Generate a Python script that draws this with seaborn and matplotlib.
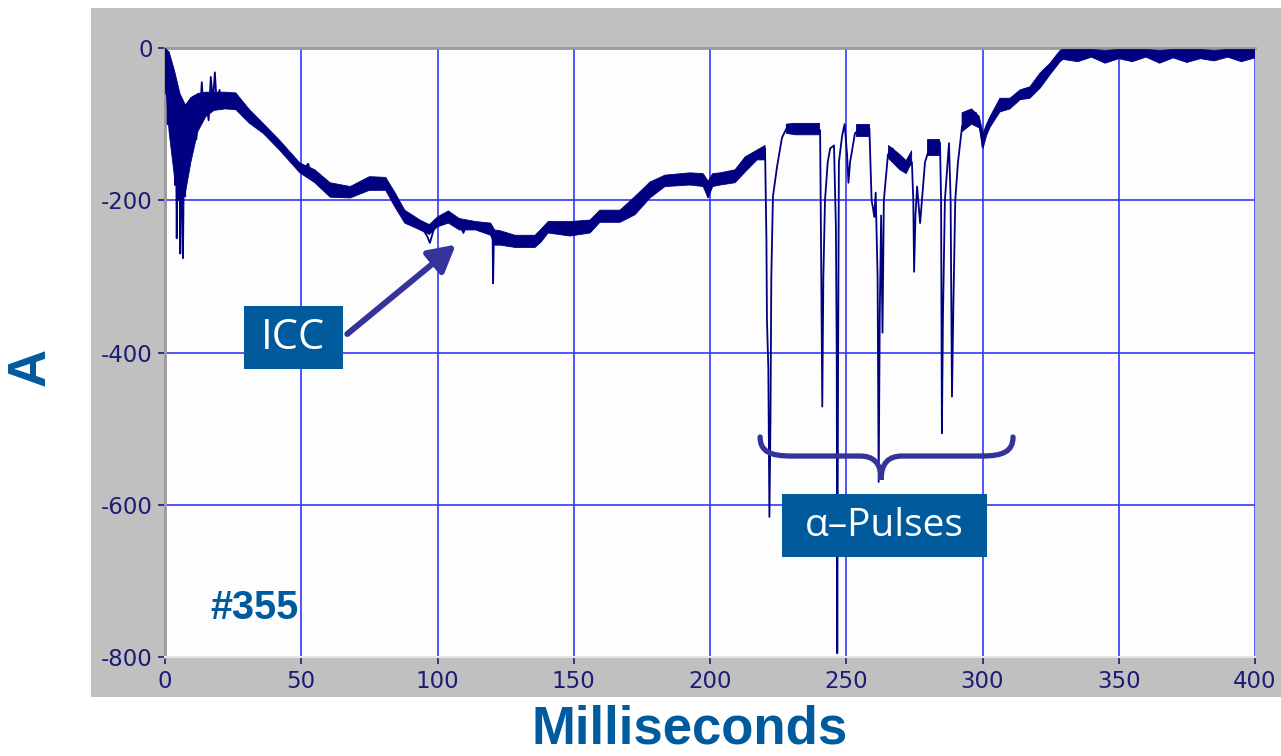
import matplotlib.pyplot as plt
from matplotlib.patches import Rectangle, PathPatch, FancyArrowPatch
from matplotlib.path import Path
import numpy as np
import pandas as pd
import seaborn as sns

# settings
sns.set_style("white")
plt.rcParams['font.family'] = ['DejaVu Sans']
plt.rcParams['axes.unicode_minus'] = False

NAN = np.nan

# trace (ms, A) -- includes the spikes
trace_ms = [0, 0.4, 0.7, 1.0, 1.3, 1.8, 2.2, 2.6, 3.0, 3.3, 3.7, 4.0, 4.3, 4.6, 5.0, 5.3, 5.6, 5.9, 6.3, 6.6,
            7.0, 7.4, 7.8, 8.4, 9.2, 10.0, 10.8, 11.5, 12.3, 12.8, 13.5, 14.2, 15.0, 16.0, 16.8, 17.6, 18.3, 19.0,
            20.0, 21.0, 22.5, 24.0, 25.7, 27.5, 29.0, 31.2, 33.0, 34.5, 36.0, 38.0, 40.0, 42.2, 44.0, 46.0, 48.0,
            49.5, 51.0, 52.5, 53.5, 55.0, 57.0, 59.0, 60.6, 63.0, 65.0, 67.9, 70.0, 72.0, 74.0, 75.2, 77.0, 79.0,
            80.7, 82.5, 84.4, 86.0, 88.1, 90.0, 92.0, 93.6, 95.0, 96.3, 97.2, 98.5, 99.8, 101.5, 103.5, 105.5,
            107.0, 108.3, 109.5, 111.0, 113.8, 116.5, 119.3, 120.2, 120.4, 120.7, 122.9, 125.0, 128.5, 132.0,
            135.8, 138.5, 140.6, 144.5, 148.6, 152.0, 156.0, 158.0, 159.6, 163.0, 167.0, 170.0, 172.5, 175.0,
            178.0, 181.0, 183.5, 188.0, 192.7, 197.0, 198.5, 199.3, 200.5, 203.7, 207.0, 209.2, 211.0, 212.9,
            215.0, 217.3, 219.5, 220.2,
            220.7, 220.9, 221.4, 221.8, 222.2, 222.5, 223.1, 224.6, 226.4, 228.3, 231.2, 236.0, 240.4, 240.8,
            241.2, 241.6, 242.2, 243.2, 244.1, 245.5, 246.2, 246.5, 246.7, 247.0, 247.3, 248.5, 249.4, 250.3,
            250.8, 251.4, 253.2, 256.0, 258.5, 259.3, 259.8, 260.3, 260.8, 261.5, 261.9, 262.3, 262.8, 263.3,
            263.8, 265.3, 267.0, 269.7, 272.0, 274.1, 274.6, 274.9, 275.4, 276.0, 277.1, 278.0, 278.9, 281.0,
            284.4, 284.8, 285.1, 285.5, 286.2, 287.0, 287.7, 288.3, 288.8, 289.3, 290.0, 291.0, 292.5, 295.0,
            297.5, 299.1, 300.0, 300.8, 302.8, 306.4, 310.1, 313.8, 317.4, 321.1, 324.8, 328.5, 329.6, 400.0]
trace_a = [-2, -60, -5, -100, -20, -40, -90, -30, -130, -60, -180, -80, -250, -120, -200, -90, -270, -150, -200, -276,
           -120, -195, -80, -160, -70, -130, -75, -120, -60, -90, -45, -85, -65, -95, -38, -70, -32, -75,
           -55, -80, -60, -72, -62, -75, -78, -90, -100, -97, -105, -110, -118, -128, -137, -145, -152,
           -157, -160, -152, -163, -168, -172, -183, -186, -190, -188, -190, -186, -182, -178, -176, -172, -178,
           -176, -185, -198, -205, -221, -230, -232, -233, -240, -248, -256, -240, -228, -220, -222, -223,
           -232, -232, -243, -229, -233, -232, -238, -240, -309, -248, -250, -252, -255, -254,
           -255, -245, -236, -238, -238, -236, -234, -228, -221, -220, -220, -214, -206, -196,
           -187, -178, -174, -172, -172, -173, -180, -196, -182, -172, -170, -168, -160, -153,
           -145, -140, -135, -132,
           -250, -357, -420, -616, -485, -300, -195, -156, -118, -104, -103, -105, -108, -280,
           -471, -300, -200, -150, -132, -128, -235, -400, -795, -420, -150, -115, -100, -140,
           -177, -150, -112, -103, -106, -200, -210, -222, -190, -300, -570, -350, -220, -374,
           -200, -140, -132, -150, -160, -150, -200, -294, -220, -182, -230, -190, -150, -126,
           -124, -200, -506, -350, -200, -160, -125, -200, -458, -340, -200, -150, -103, -90,
           -85, -100, -130, -112, -92, -78, -76, -62, -58, -45, -28, -10, -8, -8]

# thickness of the noisy trace (lower / upper edge), NaN = gap
band_ms = [0, 1.5, 3.5, 5.5, 7.5, 9.5, 12, 15, 18, 22, 26, 31, 36, 42, 49.5, 55, 60.6, 68, 75, 81, 84.4, 88,
           93.6, 97, 100, 104, 108, 114, 119.5, 121, 123, 128.5, 135.8, 138, 140.6, 148.6, 156, 159.6, 167,
           172.5, 178, 183.5, 192.7, 197.5, 199.3, 201, 203.7, 209.2, 212.9, 217.3, 220.2, 220.5,
           228, 231.2, 240.2, 240.5, 253.5, 258.3, 258.6, 265.5, 269.7, 272, 274, 274.3,
           279.5, 284.2, 284.5, 292.5, 296, 298.8, 300.2, 301.5, 302.8, 306.4, 310.1, 313.8, 317.4, 321.1,
           324.8, 328.5, 329.6, 335, 340, 345, 350, 355, 360, 365, 370, 375, 380, 385, 390, 395, 400]
band_lo = [-30, -110, -170, -200, -190, -150, -110, -90, -82, -80, -81, -99, -112, -134, -164, -177, -196, -197,
           -187, -187, -209, -230, -239, -245, -235, -230, -239, -239, -246, -259, -259, -262, -262, -255, -243,
           -247, -243, -229, -229, -219, -197, -182, -180, -182, -197, -182, -180, -177, -163, -147, -147, NAN,
           -112, -114, -114, NAN, -115, -115, NAN, -145, -160, -165, -150, NAN,
           -140, -140, NAN, -110, -100, -105, -132, -115, -104, -84, -80, -68, -66, -53,
           -35, -18, -15, -18, -12, -20, -14, -18, -12, -20, -13, -19, -14, -17, -12, -18, -13]
band_hi = [0, -5, -30, -60, -75, -65, -60, -58, -58, -58, -59, -81, -99, -121, -151, -160, -177, -182,
           -169, -170, -190, -213, -226, -232, -222, -214, -224, -228, -230, -239, -240, -246, -246, -238, -228,
           -228, -226, -213, -213, -195, -176, -167, -164, -165, -175, -165, -164, -160, -143, -134, -128, NAN,
           -100, -99, -99, NAN, -100, -100, NAN, -128, -140, -148, -135, NAN,
           -120, -120, NAN, -85, -80, -90, -112, -100, -90, -66, -66, -55, -51, -33,
           -20, -3, -2, -2, -2, -3, -2, -2, -2, -3, -2, -2, -2, -3, -2, -2, -2]

x_ticks = [0, 50, 100, 150, 200, 250, 300, 350, 400]
y_ticks = [-800, -600, -400, -200, 0]

navy = '#000080'
label_blue = '#005a9e'
box_blue = '#005a9c'
arrow_col = '#333399'

fig = plt.figure(figsize=(12.81, 7.56), dpi=100)
# grey frame behind the plot area
bg = fig.add_axes([91 / 1281, 59 / 756, 1 - 91 / 1281, 689 / 756], zorder=-5)
bg.set_facecolor('#c0c0c0')
bg.set_xticks([])
bg.set_yticks([])
for s in bg.spines.values():
    s.set_visible(False)

ax = fig.add_axes([165 / 1281, 99 / 756, 1090 / 1281, 609 / 756], zorder=1)
ax.set_facecolor('#fdfdfd')

ax.fill_between(band_ms, band_lo, band_hi, color=navy, lw=0.6, zorder=3)
df = pd.DataFrame({'ms': trace_ms, 'A': trace_a})
sns.lineplot(data=df, x='ms', y='A', sort=False, estimator=None, color=navy, lw=1.3, ax=ax, zorder=4)

ax.set_xlim(0, 400)
ax.set_ylim(-800, 0)
ax.set_xticks(x_ticks)
ax.set_yticks(y_ticks)
ax.grid(True, color='#3636ff', lw=1.2)
ax.set_axisbelow(True)
ax.tick_params(direction='out', length=5, width=1.2, color='#1c1c74', labelcolor='#1c1c74',
               labelsize=16.5, pad=4, left=True, bottom=True)
ax.set_xlabel('')
ax.set_ylabel('')
for s in ['left', 'top']:
    ax.spines[s].set_color('#9a9a9a')
    ax.spines[s].set_linewidth(2)
ax.spines['bottom'].set_color('#e6e6e6')
ax.spines['bottom'].set_linewidth(1.5)
ax.spines['right'].set_visible(False)

# axis titles
fig.text(690 / 1281, 1 - 730 / 756, 'Milliseconds', ha='center', va='center', fontsize=38,
         fontweight='bold', color=label_blue, family='Liberation Sans')
fig.text(31 / 1281, 1 - 367 / 756, 'A', ha='center', va='center', rotation=90, fontsize=38,
         fontweight='bold', color=label_blue, family='Liberation Sans')

# run number
ax.text(16.5, -735, '#355', ha='left', va='center', fontsize=28.5, fontweight='bold', color=label_blue,
        family='Liberation Sans', zorder=6)

# ICC label + arrow
ax.add_patch(Rectangle((29.0, -422), 36.3, 83, facecolor=box_blue, edgecolor='none', zorder=6))
ax.text(47.1, -381, 'ICC', ha='center', va='center', fontsize=30, color='white', family='Open Sans', zorder=7)
ax.add_patch(FancyArrowPatch((66.1, -378), (107.5, -256), arrowstyle='-|>,head_length=10,head_width=5.5',
                             mutation_scale=1.6, color=arrow_col, lw=4.3, zorder=6))

# alpha pulses brace + label
verts = [(218.4, -511), (218.4, -530), (222, -536), (230, -536), (255, -536),
         (260, -536), (262.8, -545), (262.8, -567),
         (262.8, -545), (265.6, -536), (270.6, -536), (299.6, -536),
         (307.6, -536), (311.2, -530), (311.2, -511)]
codes = [Path.MOVETO, Path.CURVE4, Path.CURVE4, Path.CURVE4, Path.LINETO,
         Path.CURVE4, Path.CURVE4, Path.CURVE4,
         Path.CURVE4, Path.CURVE4, Path.CURVE4, Path.LINETO,
         Path.CURVE4, Path.CURVE4, Path.CURVE4]
ax.add_patch(PathPatch(Path(verts, codes), facecolor='none', edgecolor=arrow_col, lw=3.8,
                       capstyle='round', zorder=6))
ax.add_patch(Rectangle((226.4, -669), 75.3, 83, facecolor=box_blue, edgecolor='none', zorder=6))
ax.text(264.0, -628, 'α–Pulses', ha='center', va='center', fontsize=28, color='white', family='Open Sans',
        zorder=7)

fig.savefig('out.png', dpi=100)
plt.close()
